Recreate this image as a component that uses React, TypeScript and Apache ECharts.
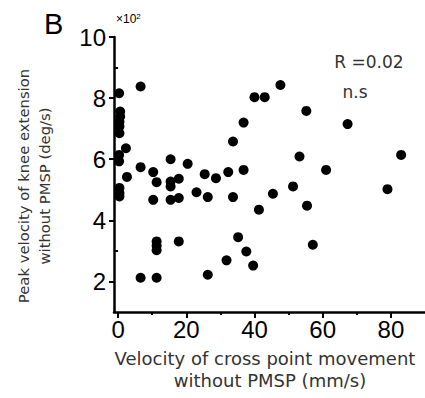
import React, { useEffect, useRef } from "react";
import * as echarts from "echarts";

const xLabelValues = [0, 20, 40, 60, 80];
const xMinorValues = [10, 30, 50, 70];
const yLabelValues = [2, 4, 6, 8, 10];
const yMinorValues = [3, 5, 7, 9];

// x: velocity of cross point movement (mm/s), y: peak velocity (x10^2 deg/s)
const points: [number, number][] = [
  [0.3, 8.16], [6.6, 8.38], [0.6, 7.56], [0.6, 7.4], [0.4, 7.23], [0.4, 7.07], [0.4, 6.85],
  [2.3, 6.36], [0.3, 6.14], [0.3, 5.93], [2.6, 5.42], [0.4, 5.06], [0.4, 4.89], [0.4, 4.78],
  [6.6, 5.74], [6.6, 2.12],
  [10.3, 5.58], [10.3, 4.67], [11.3, 5.25], [11.3, 3.31], [11.3, 3.17], [11.3, 3.02], [11.3, 2.12],
  [15.4, 6.0], [15.4, 5.27], [15.4, 5.11], [15.4, 4.67], [17.8, 5.36], [17.8, 4.73], [17.8, 3.31],
  [20.4, 5.85], [23.0, 4.92], [25.4, 5.51], [26.3, 4.76], [26.3, 2.22], [28.7, 5.38],
  [31.8, 2.69], [32.3, 5.58], [33.7, 6.58], [33.7, 4.76], [35.2, 3.45], [36.8, 7.2], [36.8, 5.65],
  [37.6, 2.98], [39.6, 2.52],
  [40.0, 8.03], [43.0, 8.03], [41.3, 4.35], [45.4, 4.87], [47.6, 8.43], [51.3, 5.11], [53.2, 6.09],
  [55.2, 7.58], [55.4, 4.48], [57.1, 3.2], [61.0, 5.65], [67.3, 7.15], [79.0, 5.02], [83.0, 6.14],
];

const FONT = "Liberation Sans, Arial, sans-serif";
const TFONT = "DejaVu Sans, sans-serif";

export default function App() {
  const ref = useRef<HTMLDivElement>(null);
  useEffect(() => {
    if (!ref.current) return;
    const chart = echarts.init(ref.current, null, { renderer: "svg" });
    const axisLine = { show: true, onZero: false, lineStyle: { color: "#000", width: 2.5 } };
    chart.setOption({
      animation: false,
      backgroundColor: "#fff",
      grid: { left: 114, top: 37, width: 312, height: 275, containLabel: false },
      xAxis: [
        {
          type: "value",
          min: -1.2,
          max: 90,
          axisLine,
          splitLine: { show: false },
          axisTick: { show: true, customValues: xLabelValues, length: 6, inside: false, lineStyle: { color: "#000", width: 2 } },
          axisLabel: { customValues: xLabelValues, fontSize: 24, color: "#000", margin: 5, fontFamily: FONT },
        },
        {
          type: "value",
          position: "bottom",
          min: -1.2,
          max: 90,
          axisLine: { show: false },
          splitLine: { show: false },
          axisTick: { show: true, customValues: xMinorValues, length: 3, lineStyle: { color: "#000", width: 2 } },
          axisLabel: { show: false },
        },
      ],
      yAxis: [
        {
          type: "value",
          min: 1,
          max: 10,
          axisLine,
          splitLine: { show: false },
          axisTick: { show: true, customValues: yLabelValues, length: 5, lineStyle: { color: "#000", width: 2 } },
          axisLabel: { customValues: yLabelValues, fontSize: 24, color: "#000", margin: 8, fontFamily: FONT },
        },
        {
          type: "value",
          position: "left",
          min: 1,
          max: 10,
          axisLine: { show: false },
          splitLine: { show: false },
          axisTick: { show: true, customValues: yMinorValues, length: 3, lineStyle: { color: "#000", width: 2 } },
          axisLabel: { show: false },
        },
      ],
      series: [
        {
          type: "scatter",
          xAxisIndex: 0,
          yAxisIndex: 0,
          data: points,
          symbol: "circle",
          symbolSize: 10,
          itemStyle: { color: "#000", opacity: 1 },
        },
      ],
      graphic: [
        { type: "text", left: 44, top: 9, style: { text: "B", fontSize: 29, fill: "#000", fontFamily: FONT } },
        {
          type: "text",
          left: 116,
          top: 12,
          style: {
            text: "×10{s|2}",
            fontSize: 12,
            fill: "#000",
            fontFamily: FONT,
            rich: { s: { fontSize: 8, verticalAlign: "top", padding: [0, 0, 6, 0] } },
          },
        },
        { type: "text", x: 369, y: 62, style: { text: "R =0.02", fontSize: 17, fill: "#333", fontFamily: TFONT, align: "center", verticalAlign: "middle" } },
        { type: "text", x: 355, y: 92, style: { text: "n.s", fontSize: 17, fill: "#333", fontFamily: TFONT, align: "center", verticalAlign: "middle" } },
        { type: "text", x: 265, y: 358, style: { text: "Velocity of cross point movement", fontSize: 18, fill: "#333", fontFamily: TFONT, align: "center", verticalAlign: "middle" } },
        { type: "text", x: 270, y: 380, style: { text: "without PMSP (mm/s)", fontSize: 18, fill: "#333", fontFamily: TFONT, align: "center", verticalAlign: "middle" } },
        { type: "text", x: 23, y: 186, rotation: Math.PI / 2, style: { text: "Peak velocity of knee extension", fontSize: 14.8, fill: "#333", fontFamily: TFONT, align: "center", verticalAlign: "middle" } },
        { type: "text", x: 44, y: 186, rotation: Math.PI / 2, style: { text: "without PMSP (deg/s)", fontSize: 14.8, fill: "#333", fontFamily: TFONT, align: "center", verticalAlign: "middle" } },
      ],
    });
    return () => chart.dispose();
  }, []);
  return <div ref={ref} style={{ width: 425, height: 398, position: "absolute", left: 0, top: 0 }} />;
}
